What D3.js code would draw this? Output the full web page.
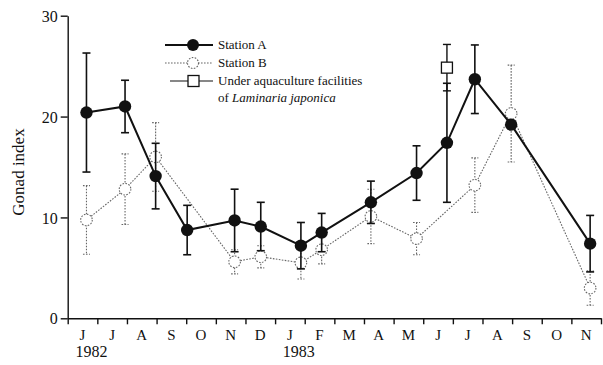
<!DOCTYPE html>
<html>
<head>
<meta charset="utf-8">
<script src="https://cdn.jsdelivr.net/npm/d3@7"></script>
<style>
  body { margin: 0; background: #fff; }
  svg text { font-family: "Liberation Serif", "Times New Roman", "DejaVu Serif", serif !important; fill: #111; }
</style>
</head>
<body>
<svg id="chart" width="603" height="365"></svg>
<script>
// Sampling dates and gonad index (mean ± SD) for each station
const sampleDates = ["1982-06-20", "1982-07-30", "1982-08-31", "1982-10-02", "1982-11-20", "1982-12-17",
                     "1983-01-28", "1983-02-17", "1983-04-08", "1983-05-25", "1983-06-25", "1983-07-24",
                     "1983-08-31", "1983-11-20"];
const stationA    = [20.4, 21.0, 14.1, 8.75, 9.7, 9.1, 7.2, 8.5, 11.5, 14.4, 17.4, 23.7, 19.2, 7.4];
const stationAErr = [5.9, 2.6, 3.25, 2.45, 3.1, 2.4, 2.3, 1.9, 2.1, 2.7, 5.9, 3.4, 0.4, 2.8];
const stationB    = [9.75, 12.8, 16.0, null, 5.6, 6.1, 5.5, 6.8, 10.1, 7.9, null, 13.2, 20.3, 3.0];
const stationBErr = [3.4, 3.5, 3.4, null, 1.2, 1.1, 1.6, 1.4, 2.7, 1.6, null, 2.7, 4.8, 1.7];
const facilityDates = ["1983-06-25"];
const facilityValue = [24.85];
const facilityErr   = [2.3];

const monthLabels = ["J","J","A","S","O","N","D","J","F","M","A","M","J","J","A","S","O","N"];
const yearLabels  = ["1982", "1983"];
const yearMonthIndex = [0, 7];
const yTicks = [0, 10, 20, 30];
const legendLabels = ["Station A", "Station B", "Under aquaculture facilities"];

const FONT = '"Liberation Serif", "Times New Roman", "DejaVu Serif", serif';

// Fractional month position counted from 1 June 1982
function monthPos(s) {
  const [yy, mm, dd] = s.split("-").map(Number);
  const days = new Date(yy, mm, 0).getDate();
  return (yy - 1982) * 12 + (mm - 6) + (dd - 1) / days;
}

const svg = d3.select("#chart").style("font-family", FONT);
const x = d3.scaleLinear().domain([0, 18]).range([67.7, 601]);
const y = d3.scaleLinear().domain([0, 30]).range([318.3, 15.7]);

// Axes
const yAxis = svg.append("g").attr("transform", `translate(${x(0)},0)`)
  .call(d3.axisLeft(y).tickValues(yTicks).tickSize(7).tickSizeOuter(0).tickPadding(3));
yAxis.attr("font-family", null).attr("font-size", null);
yAxis.selectAll("text").style("font-size", "16px").style("font-family", FONT).attr("dy", "0.35em");
const xAxis = svg.append("g").attr("transform", `translate(0,${y(0)})`)
  .call(d3.axisBottom(x).tickValues(d3.range(0, 19)).tickSize(6).tickSizeOuter(0).tickFormat(""));
xAxis.attr("font-family", null);
svg.selectAll(".domain, .tick line").attr("stroke", "#111").attr("stroke-width", 1.4);

svg.append("g").selectAll("text").data(monthLabels).join("text")
  .attr("x", (d, i) => x(i + 0.5)).attr("y", 340)
  .attr("text-anchor", "middle").style("font-size", "15px").style("font-family", FONT).text(d => d);
svg.append("g").selectAll("text").data(yearLabels).join("text")
  .attr("x", (d, i) => x(yearMonthIndex[i] + 0.8)).attr("y", 357)
  .attr("text-anchor", "middle").style("font-size", "16px").style("font-family", FONT).text(d => d);

svg.append("text").attr("transform", "translate(24,172) rotate(-90)")
  .attr("text-anchor", "middle").style("font-size", "17px").style("font-family", FONT).text("Gonad index");

// Build point records
const ptsA = sampleDates.map((d, i) => ({ m: monthPos(d), v: stationA[i], e: stationAErr[i] }));
const ptsB = sampleDates.map((d, i) => ({ m: monthPos(d), v: stationB[i], e: stationBErr[i] }))
  .filter(p => p.v != null);
const ptsF = facilityDates.map((d, i) => ({ m: monthPos(d), v: facilityValue[i], e: facilityErr[i] }));

const line = d3.line().x(p => x(p.m)).y(p => y(p.v));

function errorBars(g, pts, cap, style) {
  const eb = g.append("g").selectAll("g").data(pts).join("g");
  eb.append("line").attr("x1", p => x(p.m)).attr("x2", p => x(p.m))
    .attr("y1", p => y(p.v + p.e)).attr("y2", p => y(p.v - p.e)).call(style);
  [1, -1].forEach(s => {
    eb.append("line").attr("x1", p => x(p.m) - cap).attr("x2", p => x(p.m) + cap)
      .attr("y1", p => y(p.v + s * p.e)).attr("y2", p => y(p.v + s * p.e)).call(style);
  });
}

// Station B: dotted grey
const gB = svg.append("g");
const dottedStyle = sel => sel.attr("stroke", "#666").attr("stroke-width", 1.1).attr("stroke-dasharray", "1.6,1.4");
gB.append("path").datum(ptsB).attr("d", line).attr("fill", "none").call(dottedStyle);
errorBars(gB, ptsB, 3.5, dottedStyle);

// Station A: solid black
const gA = svg.append("g");
const solidStyle = sel => sel.attr("stroke", "#111").attr("stroke-width", 1.6);
gA.append("path").datum(ptsA).attr("d", line).attr("fill", "none").attr("stroke", "#111").attr("stroke-width", 2);
errorBars(gA, ptsA, 4, solidStyle);

// Facility point error bar
const gF = svg.append("g");
errorBars(gF, ptsF, 4, sel => sel.attr("stroke", "#111").attr("stroke-width", 1.4));

// Markers
gB.selectAll("circle").data(ptsB).join("circle")
  .attr("cx", p => x(p.m)).attr("cy", p => y(p.v)).attr("r", 5.8)
  .attr("fill", "#fff").call(dottedStyle);
gA.selectAll("circle").data(ptsA).join("circle")
  .attr("cx", p => x(p.m)).attr("cy", p => y(p.v)).attr("r", 6.2).attr("fill", "#111");
gF.selectAll("rect").data(ptsF).join("rect")
  .attr("x", p => x(p.m) - 5.5).attr("y", p => y(p.v) - 5.5).attr("width", 11).attr("height", 11)
  .attr("fill", "#fff").attr("stroke", "#111").attr("stroke-width", 1.3);

// Legend
const lg = svg.append("g");
const lgY = [45, 63, 81];
lg.append("line").attr("x1", 165).attr("x2", 213).attr("y1", lgY[0]).attr("y2", lgY[0])
  .attr("stroke", "#111").attr("stroke-width", 2);
lg.append("circle").attr("cx", 193).attr("cy", lgY[0]).attr("r", 6).attr("fill", "#111");
lg.append("line").attr("x1", 165).attr("x2", 213).attr("y1", lgY[1]).attr("y2", lgY[1]).call(dottedStyle);
lg.append("circle").attr("cx", 193).attr("cy", lgY[1]).attr("r", 5.5).attr("fill", "#fff").call(dottedStyle);
lg.append("line").attr("x1", 170).attr("x2", 213).attr("y1", lgY[2]).attr("y2", lgY[2])
  .attr("stroke", "#111").attr("stroke-width", 1.2);
lg.append("rect").attr("x", 188).attr("y", lgY[2] - 5.5).attr("width", 11).attr("height", 11)
  .attr("fill", "#fff").attr("stroke", "#111").attr("stroke-width", 1.3);
lg.selectAll("text.lab").data(legendLabels).join("text").attr("class", "lab")
  .attr("x", 218).attr("y", (d, i) => lgY[i] + 4).style("font-size", "13px").style("font-family", FONT).text(d => d);
const t4 = lg.append("text").attr("x", 218).attr("y", 102).style("font-size", "13px").style("font-family", FONT);
t4.append("tspan").text("of ");
t4.append("tspan").style("font-style", "italic").text("Laminaria japonica");
</script>
</body>
</html>
